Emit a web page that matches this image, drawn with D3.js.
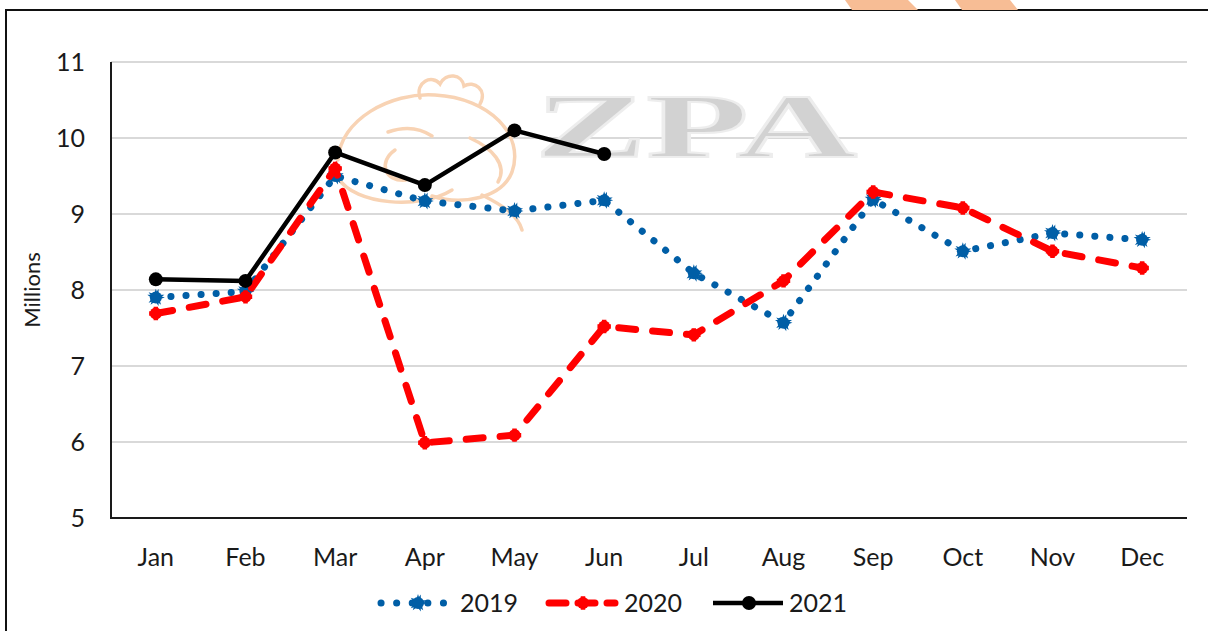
<!DOCTYPE html>
<html><head><meta charset="utf-8">
<script src="https://cdn.jsdelivr.net/npm/d3@7"></script>
<style>
html,body{margin:0;padding:0;background:#fff;}
svg{display:block;}
text{font-family:"Lato","Liberation Sans",sans-serif;fill:#1a1a1a;}
</style></head>
<body>
<svg id="c" width="1208" height="631"></svg>
<script>
const months = ["Jan","Feb","Mar","Apr","May","Jun","Jul","Aug","Sep","Oct","Nov","Dec"];
const yTicks = [5,6,7,8,9,10,11];
const v2019 = [7.90,7.98,9.50,9.17,9.04,9.18,8.22,7.57,9.19,8.51,8.75,8.66];
const v2020 = [7.69,7.91,9.60,5.99,6.09,7.52,7.41,8.12,9.29,9.08,8.51,8.29];
const v2021 = [8.14,8.12,9.81,9.38,10.10,9.79];
const seriesNames = ["2019","2020","2021"];

const svg = d3.select("#c");
const m = {left:111, right:1187, top:62, bottom:518};

// outer frame
svg.append("rect").attr("x",6).attr("y",10).attr("width",1220).attr("height",640)
  .attr("fill","#fff").attr("stroke","#111").attr("stroke-width",2);
// orange decorative strokes at top
svg.append("polygon").attr("points","845,0 908,0 918,10 852,10").attr("fill","#f7bd95");
svg.append("polygon").attr("points","955,0 1010,0 1018,10 962,10").attr("fill","#f7bd95");

const x = d3.scalePoint().domain(months).range([m.left, m.right]).padding(0.5);
const y = d3.scaleLinear().domain([5,11]).range([m.bottom, m.top]);

// gridlines
svg.append("g").selectAll("line").data(yTicks.filter(d=>d>5)).join("line")
  .attr("x1",m.left).attr("x2",m.right).attr("y1",d=>y(d)).attr("y2",d=>y(d))
  .attr("stroke","#d9d9d9").attr("stroke-width",2);

// watermark
const wm = svg.append("g");
const ch = wm.append("g").attr("fill","none").attr("stroke","#f8d3b4").attr("stroke-width",3.5).attr("stroke-linecap","round");
ch.append("path").attr("d","M 338 160 C 340 120, 390 92, 435 95 C 490 98, 525 135, 512 172 C 502 198, 462 206, 432 196");
ch.append("path").attr("d","M 420 98 C 415 82, 432 74, 440 84 C 446 72, 462 74, 464 86 C 474 80, 488 90, 480 104");
ch.append("path").attr("d","M 388 132 C 405 126, 420 128, 432 136");
ch.append("path").attr("d","M 395 150 C 378 162, 384 182, 406 180");
ch.append("path").attr("d","M 470 138 C 492 148, 508 165, 498 182");
ch.append("path").attr("d","M 338 178 C 355 205, 420 210, 452 190");
ch.append("path").attr("d","M 482 195 C 502 205, 518 215, 522 230");
wm.append("text").attr("x",535).attr("y",157).text("ZPA")
  .attr("textLength",322).attr("lengthAdjust","spacingAndGlyphs")
  .style("font-family","'Liberation Serif',serif").style("font-weight","bold")
  .style("font-size","92px")
  .style("fill","#d2d2d2").attr("stroke","#ededed").attr("stroke-width",2);

// axes lines
svg.append("line").attr("x1",m.left).attr("x2",m.left).attr("y1",m.top).attr("y2",m.bottom).attr("stroke","#1a1a1a").attr("stroke-width",2);
svg.append("line").attr("x1",m.left-1).attr("x2",m.right).attr("y1",m.bottom).attr("y2",m.bottom).attr("stroke","#1a1a1a").attr("stroke-width",2);

// y tick labels
svg.append("g").selectAll("text").data(yTicks).join("text")
  .attr("x",85).attr("y",d=>y(d)).attr("dy","0.36em").attr("text-anchor","end")
  .style("font-size","25px").text(d=>d);
// x labels
svg.append("g").selectAll("text").data(months).join("text")
  .attr("x",d=>x(d)).attr("y",566).attr("text-anchor","middle")
  .style("font-size","25px").text(d=>d);
// y title
svg.append("text").attr("transform","translate(40,290) rotate(-90)").attr("text-anchor","middle")
  .style("font-size","22px").text("Millions");

const line = d3.line().x((d,i)=>x(months[i])).y(d=>y(d));

function blueMarker(g, cx, cy){
  g.append("path").attr("d", d3.symbol(d3.symbolStar, 90)()).attr("transform",`translate(${cx},${cy}) rotate(18)`).attr("fill","#005ea6");
  g.append("path").attr("d", d3.symbol(d3.symbolStar, 90)()).attr("transform",`translate(${cx},${cy})`).attr("fill","#005ea6");
  g.append("circle").attr("cx",cx).attr("cy",cy).attr("r",6).attr("fill","#005ea6");
}
function redMarker(g, cx, cy){
  g.append("path").attr("d", d3.symbol(d3.symbolCross, 100)()).attr("transform",`translate(${cx},${cy})`).attr("fill","#ff0000");
  g.append("circle").attr("cx",cx).attr("cy",cy).attr("r",6).attr("fill","#ff0000");
}
function blackMarker(g, cx, cy){
  g.append("circle").attr("cx",cx).attr("cy",cy).attr("r",7).attr("fill","#000");
}

// 2019
const g19 = svg.append("g");
g19.append("path").datum(v2019).attr("d",line).attr("fill","none").attr("stroke","#005ea6")
  .attr("stroke-width",7).attr("stroke-linecap","round").attr("stroke-dasharray","0.1,15");
v2019.forEach((d,i)=>blueMarker(g19, x(months[i]), y(d)));
// 2020
const g20 = svg.append("g");
g20.append("path").datum(v2020).attr("d",line).attr("fill","none").attr("stroke","#ff0000")
  .attr("stroke-width",7).attr("stroke-linecap","round").attr("stroke-dasharray","17,17");
v2020.forEach((d,i)=>redMarker(g20, x(months[i]), y(d)));
// 2021
const g21 = svg.append("g");
g21.append("path").datum(v2021).attr("d",line).attr("fill","none").attr("stroke","#000")
  .attr("stroke-width",4.5).attr("stroke-linejoin","round");
v2021.forEach((d,i)=>blackMarker(g21, x(months[i]), y(d)));

// legend
const ly = 603;
const leg = svg.append("g");
const lx = [381, 549, 715];
leg.append("line").attr("x1",lx[0]).attr("x2",lx[0]+68).attr("y1",ly).attr("y2",ly)
  .attr("stroke","#005ea6").attr("stroke-width",7).attr("stroke-linecap","round").attr("stroke-dasharray","0.1,15.5");
blueMarker(leg, lx[0]+37, ly);
leg.append("line").attr("x1",lx[1]).attr("x2",lx[1]+66).attr("y1",ly).attr("y2",ly)
  .attr("stroke","#ff0000").attr("stroke-width",7).attr("stroke-linecap","round").attr("stroke-dasharray","17,12");
redMarker(leg, lx[1]+34, ly);
leg.append("line").attr("x1",lx[2]-2).attr("x2",lx[2]+68).attr("y1",ly).attr("y2",ly)
  .attr("stroke","#000").attr("stroke-width",4.5);
blackMarker(leg, lx[2]+34, ly);
leg.selectAll("text.l").data(seriesNames).join("text").attr("class","l")
  .attr("x",(d,i)=>[460,624,789][i]).attr("y",ly).attr("dy","0.36em")
  .style("font-size","25px").text(d=>d);
</script>
</body></html>
